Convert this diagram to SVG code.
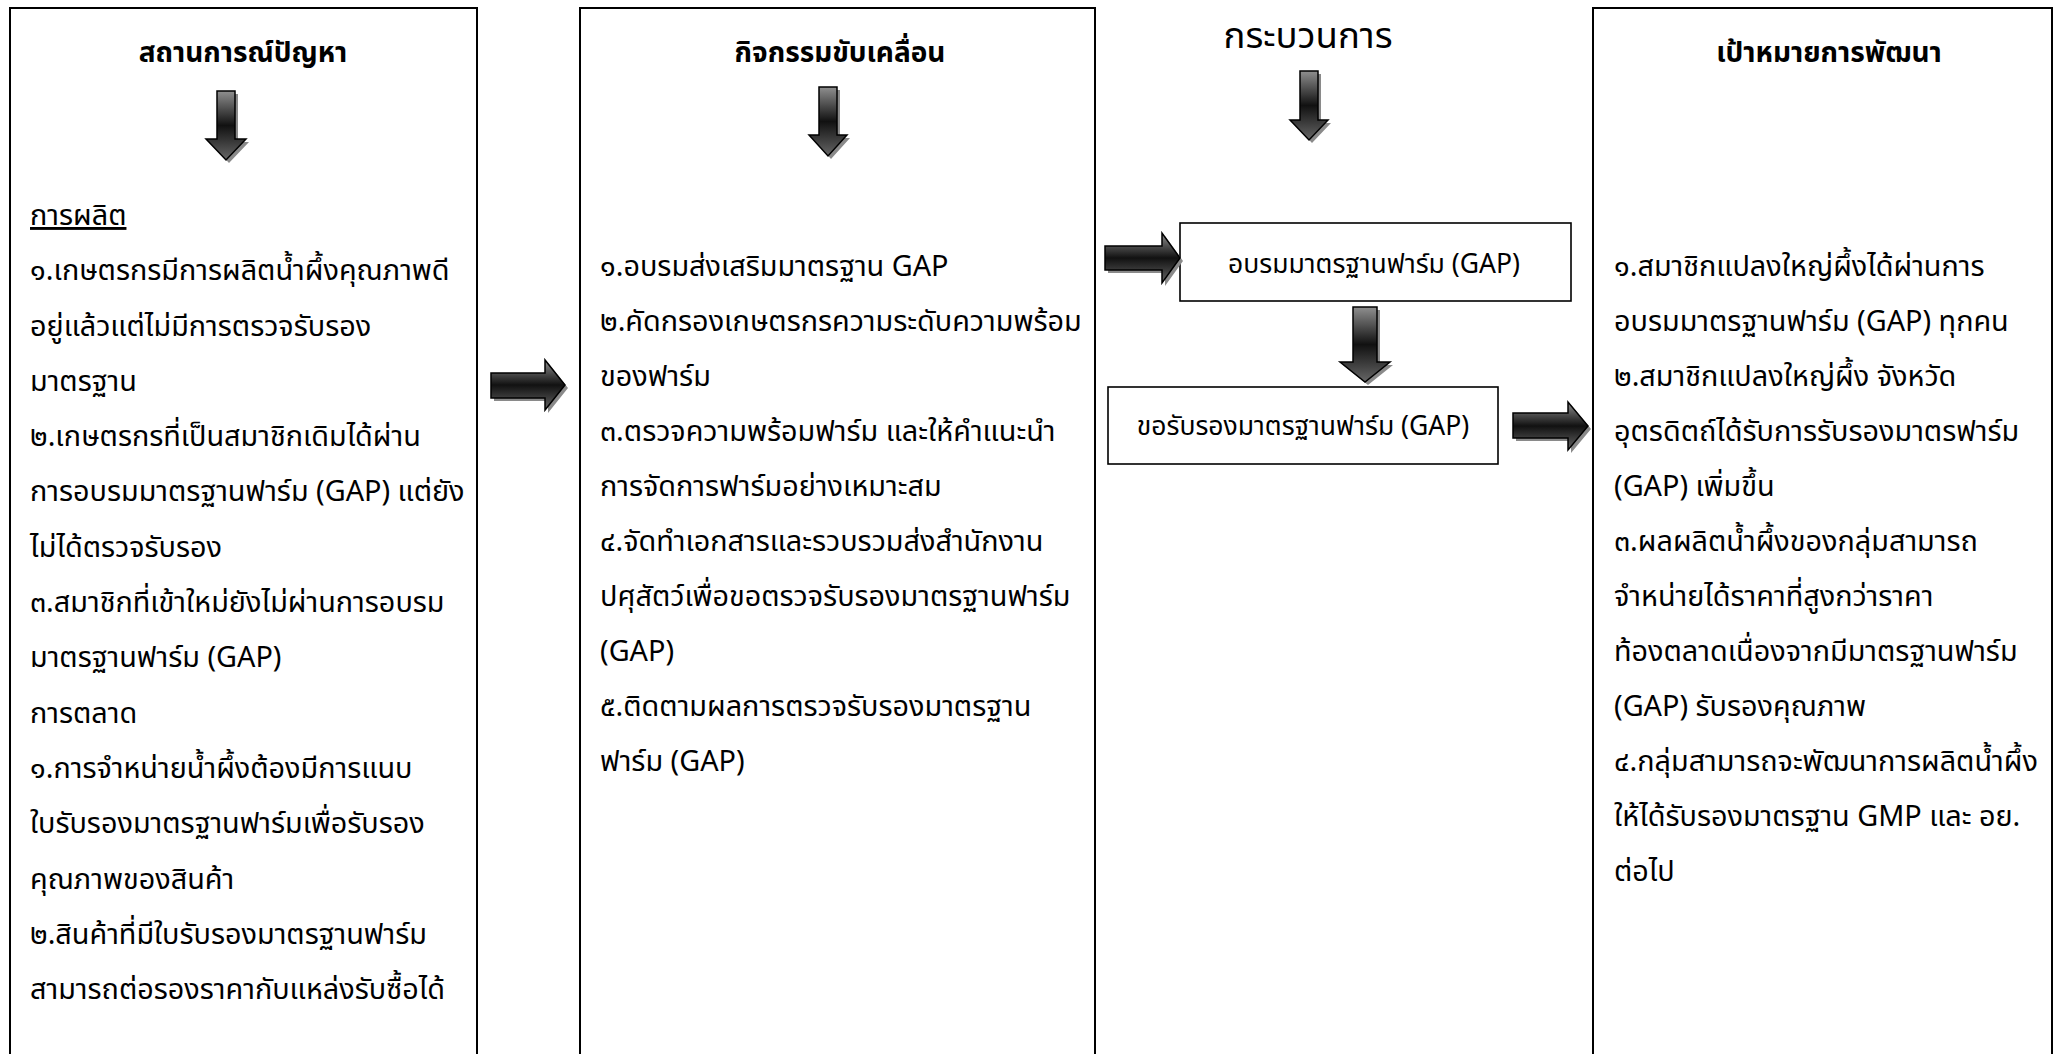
<svg xmlns="http://www.w3.org/2000/svg" width="2062" height="1054" viewBox="0 0 2062 1054">
<defs>
<linearGradient id="g" x1="0" y1="0" x2="0" y2="1">
<stop offset="0" stop-color="#8f8f8f"/>
<stop offset="0.5" stop-color="#111"/>
<stop offset="1" stop-color="#666"/>
</linearGradient>
<style>
text{font-family:"Noto Sans Thai","Leelawadee UI",Tahoma,"DejaVu Sans","Noto Sans",sans-serif;fill:#000}
.t{font-size:28.8px}
.h{font-size:28px;font-weight:bold;text-anchor:middle}
.big{font-size:36.5px;text-anchor:middle}
.bx{font-size:26.5px;text-anchor:middle}
.col{fill:#fff;stroke:#000;stroke-width:2}
.sub{fill:#fff;stroke:#000;stroke-width:1.6}
.ar{fill:url(#g);stroke:#000;stroke-width:1.5}
.sh{fill:#8a8a8a;stroke:none}
</style>
</defs>
<rect width="2062" height="1054" fill="#fff"/>

<g id="col1">
<rect class="col" x="10" y="8" width="467" height="1060"/>
<text class="h" x="243" y="62">สถานการณ์ปัญหา</text>
<text class="t" x="30" y="225" text-decoration="underline">การผลิต</text>
<text class="t" x="30" y="280">๑.เกษตรกรมีการผลิตน้ำผึ้งคุณภาพดี</text>
<text class="t" x="30" y="336">อยู่แล้วแต่ไม่มีการตรวจรับรอง</text>
<text class="t" x="30" y="391">มาตรฐาน</text>
<text class="t" x="30" y="446">๒.เกษตรกรที่เป็นสมาชิกเดิมได้ผ่าน</text>
<text class="t" x="30" y="501">การอบรมมาตรฐานฟาร์ม (GAP) แต่ยัง</text>
<text class="t" x="30" y="557">ไม่ได้ตรวจรับรอง</text>
<text class="t" x="30" y="612">๓.สมาชิกที่เข้าใหม่ยังไม่ผ่านการอบรม</text>
<text class="t" x="30" y="667">มาตรฐานฟาร์ม (GAP)</text>
<text class="t" x="30" y="723">การตลาด</text>
<text class="t" x="30" y="778">๑.การจำหน่ายน้ำผึ้งต้องมีการแนบ</text>
<text class="t" x="30" y="833">ใบรับรองมาตรฐานฟาร์มเพื่อรับรอง</text>
<text class="t" x="30" y="889">คุณภาพของสินค้า</text>
<text class="t" x="30" y="944">๒.สินค้าที่มีใบรับรองมาตรฐานฟาร์ม</text>
<text class="t" x="30" y="999">สามารถต่อรองราคากับแหล่งรับซื้อได้</text>
</g>

<g id="col2">
<rect class="col" x="580" y="8" width="515" height="1060"/>
<text class="h" x="840" y="62">กิจกรรมขับเคลื่อน</text>
<text class="t" x="600" y="276">๑.อบรมส่งเสริมมาตรฐาน GAP</text>
<text class="t" x="600" y="331">๒.คัดกรองเกษตรกรความระดับความพร้อม</text>
<text class="t" x="600" y="386">ของฟาร์ม</text>
<text class="t" x="600" y="441">๓.ตรวจความพร้อมฟาร์ม และให้คำแนะนำ</text>
<text class="t" x="600" y="496">การจัดการฟาร์มอย่างเหมาะสม</text>
<text class="t" x="600" y="551">๔.จัดทำเอกสารและรวบรวมส่งสำนักงาน</text>
<text class="t" x="600" y="606">ปศุสัตว์เพื่อขอตรวจรับรองมาตรฐานฟาร์ม</text>
<text class="t" x="600" y="661">(GAP)</text>
<text class="t" x="600" y="716">๕.ติดตามผลการตรวจรับรองมาตรฐาน</text>
<text class="t" x="600" y="771">ฟาร์ม (GAP)</text>
</g>

<g id="process-title">
<text class="big" x="1308" y="48">กระบวนการ</text>
</g>

<g id="boxA">
<rect class="sub" x="1180" y="223" width="391" height="78"/>
<text class="bx" x="1374" y="273">อบรมมาตรฐานฟาร์ม (GAP)</text>
</g>

<g id="boxB">
<rect class="sub" x="1108" y="387" width="390" height="77"/>
<text class="bx" x="1303" y="435">ขอรับรองมาตรฐานฟาร์ม (GAP)</text>
</g>

<g id="col4">
<rect class="col" x="1593" y="8" width="459" height="1060"/>
<text class="h" x="1829" y="62">เป้าหมายการพัฒนา</text>
<text class="t" x="1614" y="276">๑.สมาชิกแปลงใหญ่ผึ้งได้ผ่านการ</text>
<text class="t" x="1614" y="331">อบรมมาตรฐานฟาร์ม (GAP) ทุกคน</text>
<text class="t" x="1614" y="386">๒.สมาชิกแปลงใหญ่ผึ้ง จังหวัด</text>
<text class="t" x="1614" y="441">อุตรดิตถ์ได้รับการรับรองมาตรฟาร์ม</text>
<text class="t" x="1614" y="496">(GAP) เพิ่มขึ้น</text>
<text class="t" x="1614" y="551">๓.ผลผลิตน้ำผึ้งของกลุ่มสามารถ</text>
<text class="t" x="1614" y="606">จำหน่ายได้ราคาที่สูงกว่าราคา</text>
<text class="t" x="1614" y="661">ท้องตลาดเนื่องจากมีมาตรฐานฟาร์ม</text>
<text class="t" x="1614" y="716">(GAP) รับรองคุณภาพ</text>
<text class="t" x="1614" y="771">๔.กลุ่มสามารถจะพัฒนาการผลิตน้ำผึ้ง</text>
<text class="t" x="1614" y="826">ให้ได้รับรองมาตรฐาน GMP และ อย.</text>
<text class="t" x="1614" y="881">ต่อไป</text>
</g>

<g id="connectors">
<g id="down1">
<path class="sh" transform="translate(3,3)" d="M217,91H235V139H246L226,160L206,139H217Z"/>
<path class="ar" d="M217,91H235V139H246L226,160L206,139H217Z"/>
</g>
<g id="down2">
<path class="sh" transform="translate(3,3)" d="M819,87H837V135H847L828,156L809,135H819Z"/>
<path class="ar" d="M819,87H837V135H847L828,156L809,135H819Z"/>
</g>
<g id="down3">
<path class="sh" transform="translate(3,3)" d="M1300,71H1318V120H1328L1309,140L1290,120H1300Z"/>
<path class="ar" d="M1300,71H1318V120H1328L1309,140L1290,120H1300Z"/>
</g>
<g id="downAB">
<path class="sh" transform="translate(3,3)" d="M1353,307H1377V362H1390L1365,382L1340,362H1353Z"/>
<path class="ar" d="M1353,307H1377V362H1390L1365,382L1340,362H1353Z"/>
</g>
<g id="right12">
<path class="sh" transform="translate(3,3)" d="M491,373H545V360L565,385L545,410V398H491Z"/>
<path class="ar" d="M491,373H545V360L565,385L545,410V398H491Z"/>
</g>
<g id="rightA">
<path class="sh" transform="translate(3,3)" d="M1105,246H1162V233L1180,258L1162,283V270H1105Z"/>
<path class="ar" d="M1105,246H1162V233L1180,258L1162,283V270H1105Z"/>
</g>
<g id="rightB">
<path class="sh" transform="translate(3,3)" d="M1513,413H1568V402L1588,426L1568,450V438H1513Z"/>
<path class="ar" d="M1513,413H1568V402L1588,426L1568,450V438H1513Z"/>
</g>
</g>
</svg>
